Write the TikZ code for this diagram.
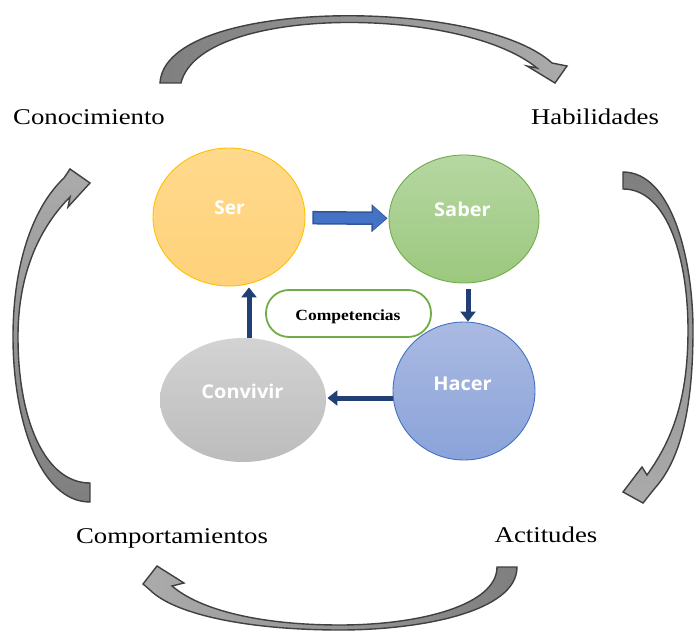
\documentclass[tikz,border=0pt]{standalone}
\usepackage{fontspec}
\usepackage{graphicx}
\setmainfont{Liberation Serif}
\newfontfamily\opensans{Open Sans}
\usetikzlibrary{shapes.geometric,arrows.meta}
\definecolor{garrowdark}{HTML}{7F7F7F}
\definecolor{garrowlight}{HTML}{ABABAB}
\definecolor{garrowline}{HTML}{404040}
\definecolor{serfill}{HTML}{FFD98C}
\definecolor{serfillb}{HTML}{FFD27A}
\definecolor{serline}{HTML}{FFC000}
\definecolor{sabtop}{HTML}{B6D7A2}
\definecolor{sabbot}{HTML}{9BC87E}
\definecolor{sabline}{HTML}{70AD47}
\definecolor{hactop}{HTML}{ABBAE2}
\definecolor{hacbot}{HTML}{8AA3D9}
\definecolor{hacline}{HTML}{4472C4}
\definecolor{contop}{HTML}{D3D3D3}
\definecolor{conbot}{HTML}{BCBCBC}
\definecolor{navy}{HTML}{223F75}
\definecolor{blockblue}{HTML}{4472C4}
\definecolor{blockline}{HTML}{2F5597}
\tikzset{
  outerarrow/.style={draw=garrowline, line width=1.4pt, line join=miter},
  bubble/.style={ellipse, inner sep=0pt, line width=0.9pt},
  circtext/.style={text=white, font=\opensans\bfseries\fontsize{19}{22}\selectfont, anchor=base},
  outertext/.style={font=\fontsize{22.5}{26}\selectfont, anchor=base},
  navyarrow/.style={draw=navy, line width=5pt, -{Triangle[width=15pt,length=10pt]}},
}
\begin{document}
\begin{tikzpicture}[x=1pt,y=-1pt]
\useasboundingbox (0,0) rectangle (694,631);
% outer curved arrows
\shade[outerarrow, left color=garrowdark, right color=garrowlight]
  (160,83) .. controls (165,-3) and (480,-3) .. (552,63) -- (567,66) -- (555,83) -- (527,66) -- (537,68)
  .. controls (460,5) and (200,5) .. (181,83) -- cycle;
\shade[outerarrow, top color=garrowdark, bottom color=garrowlight]
  (623,172) .. controls (672,172) and (693,260) .. (693,330) .. controls (693,410) and (680,460) .. (655,488)
  -- (643,503) -- (623,492) -- (642,467) -- (647,475)
  .. controls (672,440) and (688,400) .. (688,330) .. controls (688,260) and (668,189) .. (623,189) -- cycle;
\shade[outerarrow, right color=garrowdark, left color=garrowlight]
  (517,567) .. controls (517,612) and (420,630) .. (340,630) .. controls (250,630) and (175,615) .. (150,590)
  -- (143,584) -- (157,566) -- (184,583) -- (172,586)
  .. controls (200,610) and (260,625) .. (340,625) .. controls (420,625) and (497,605) .. (497,567) -- cycle;
\shade[outerarrow, bottom color=garrowdark, top color=garrowlight]
  (90,502) .. controls (40,502) and (13,420) .. (13,337) .. controls (13,260) and (35,205) .. (64,178)
  -- (70,169) -- (90,183) -- (68,207) -- (70,197)
  .. controls (42,225) and (18,270) .. (18,337) .. controls (18,420) and (45,483) .. (90,483) -- cycle;
% outer labels
\node[outertext] (conoc) at (89,125) {\scalebox{1.19}[1]{Conocimiento}};
\node[outertext] (habil) at (595,125) {\scalebox{1.19}[1]{Habilidades}};
\node[outertext] (compor) at (172,543) {\scalebox{1.19}[1]{Comportamientos}};
\node[outertext] (actit) at (546,542) {\scalebox{1.19}[1]{Actitudes}};
% bubbles
\node[bubble, draw=serline, top color=serfill, bottom color=serfillb, minimum width=152pt, minimum height=138pt] (ser) at (229,217) {};
\node[bubble, draw=sabline, top color=sabtop, bottom color=sabbot, minimum width=150pt, minimum height=128pt] (saber) at (464,219) {};
\node[bubble, draw=hacline, top color=hactop, bottom color=hacbot, minimum width=142pt, minimum height=138pt] (hacer) at (464,391) {};
\node[bubble, draw=none, top color=contop, bottom color=conbot, minimum width=166pt, minimum height=124pt] (convivir) at (243,400) {};
\node[circtext] (serl) at (229.5,215) {Ser};
\node[circtext] (saberl) at (462.5,217) {\scalebox{1.05}[1]{Saber}};
\node[circtext] (hacerl) at (462.5,390) {\scalebox{1.05}[1]{Hacer}};
\node[circtext] (convivirl) at (242.5,398) {\scalebox{1.05}[1]{Convivir}};
% competencias
\node[draw=sabline, line width=1.8pt, rounded corners=23pt, minimum width=165pt, minimum height=47pt, fill=white] (comp) at (348.5,313.5) {};
\node[anchor=base, font=\bfseries\fontsize{15.5}{18}\selectfont] (compl) at (348,320) {\scalebox{1.13}[1]{Competencias}};
% inner arrows
\draw[draw=blockline, line width=13.5pt, shorten <=7pt, shorten >=1pt, -{Triangle[width=27pt,length=16pt]}] (ser) -- (saber);
\draw[draw=blockblue, line width=10.5pt, shorten <=8.5pt, shorten >=2.5pt, -{Triangle[width=23pt,length=13pt]}] (ser) -- (saber);
\draw[navyarrow, shorten <=6pt] ([xshift=4pt]saber.south) -- ([xshift=4pt]hacer.north);
\draw[navyarrow, shorten >=1pt] ([yshift=-7pt]hacer.west) -- ([yshift=2pt]convivir.east);
\draw[navyarrow, shorten >=1pt] ([xshift=6pt]convivir.north) -- ([xshift=20pt]ser.south);
\end{tikzpicture}
\end{document}
